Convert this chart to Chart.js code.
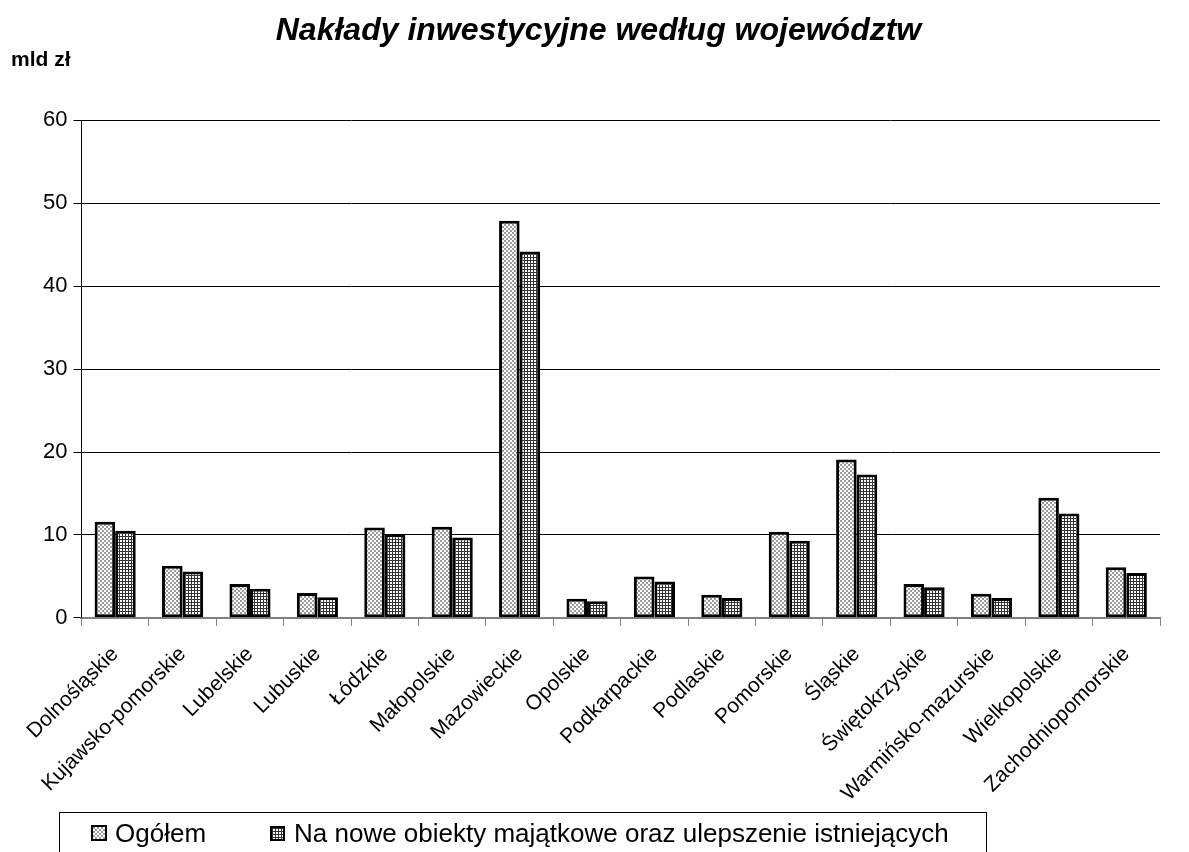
<!DOCTYPE html>
<html>
<head>
<meta charset="utf-8">
<script src="https://cdn.jsdelivr.net/npm/chart.js@4.4.0/dist/chart.umd.min.js"></script>
<style>
  body { margin: 0; background: #fff; font-family: Arial, "Liberation Sans", sans-serif; }
  #wrap { position: relative; width: 1189px; height: 852px; overflow: hidden; }
  #legend {
    position: absolute; left: 59px; top: 812px; width: 928px; height: 60px;
    border: 1px solid #000; box-sizing: border-box; font-size: 26px; line-height: 30px; color: #000;
    display: flex; align-items: flex-start; padding: 5px 0 0 31px;
  }
  #legend span { display: inline-flex; align-items: center; }
</style>
</head>
<body>
<div id="wrap">
  <canvas id="chart" width="1189" height="852"></canvas>
  <div id="legend"></div>
</div>
<script>
// Voivodeships and values (mld zł)
const categories = ["Dolnośląskie", "Kujawsko-pomorskie", "Lubelskie", "Lubuskie", "Łódzkie",
  "Małopolskie", "Mazowieckie", "Opolskie", "Podkarpackie", "Podlaskie", "Pomorskie", "Śląskie",
  "Świętokrzyskie", "Warmińsko-mazurskie", "Wielkopolskie", "Zachodniopomorskie"];
const ogolem = [11.6, 6.3, 4.1, 3.0, 10.9, 11.0, 47.9, 2.3, 5.0, 2.8, 10.4, 19.1, 4.1, 2.9, 14.5, 6.1];
const naNowe = [10.5, 5.6, 3.5, 2.5, 10.1, 9.7, 44.2, 2.0, 4.4, 2.4, 9.3, 17.3, 3.7, 2.4, 12.6, 5.4];
const seriesNames = ["Ogółem", "Na nowe obiekty majątkowe oraz ulepszenie istniejących"];
const yTicks = [0, 10, 20, 30, 40, 50, 60];

// fill patterns like the old Excel hatches
function makePattern(kind) {
  const c = document.createElement('canvas');
  const g = c.getContext('2d');
  if (kind === 'dots') {
    c.width = 4; c.height = 4;
    g.fillStyle = '#fff'; g.fillRect(0, 0, 4, 4);
    g.fillStyle = '#9a9a9a';
    g.fillRect(0, 0, 2, 2); g.fillRect(2, 2, 2, 2);
  } else {
    c.width = 3; c.height = 3;
    g.fillStyle = '#fff'; g.fillRect(0, 0, 3, 3);
    g.fillStyle = '#333';
    g.fillRect(0, 2, 3, 1); g.fillRect(2, 0, 1, 3);
  }
  return g.createPattern(c, 'repeat');
}
const patDots = makePattern('dots');
const patGrid = makePattern('grid');

// "mld zł" unit label in the top-left corner
const unitLabel = {
  id: 'unitLabel',
  afterDraw(chart) {
    const c = chart.ctx;
    c.save();
    c.font = 'bold 21px Arial, "Liberation Sans"';
    c.fillStyle = '#000';
    c.textBaseline = 'middle';
    c.fillText('mld zł', 11, 60);
    c.restore();
  }
};

const ctx = document.getElementById('chart').getContext('2d');
new Chart(ctx, {
  type: 'bar',
  data: {
    labels: categories,
    datasets: [
      { label: seriesNames[0], data: ogolem, backgroundColor: patDots,
        borderColor: '#000', borderWidth: 3, borderSkipped: false },
      { label: seriesNames[1], data: naNowe, backgroundColor: patGrid,
        borderColor: '#000', borderWidth: 3, borderSkipped: false }
    ]
  },
  options: {
    responsive: false,
    animation: false,
    layout: { padding: { left: 37, right: 29, top: 0, bottom: 30 } },
    categoryPercentage: 0.61,
    barPercentage: 1.0,
    plugins: {
      legend: { display: false },
      tooltip: { enabled: false },
      title: {
        display: true,
        text: 'Nakłady inwestycyjne według województw',
        color: '#000',
        font: { family: 'Arial, "Liberation Sans"', size: 32, weight: 'bold', style: 'italic' },
        padding: { top: 12, bottom: 70 }
      }
    },
    scales: {
      x: {
        grid: { display: true, drawOnChartArea: false, offset: true, color: '#808080', tickLength: 8 },
        border: { color: '#808080', width: 2 },
        ticks: {
          color: '#000', minRotation: 45, maxRotation: 45, autoSkip: false, padding: 16,
          font: { family: 'Arial, "Liberation Sans"', size: 21 }
        }
      },
      y: {
        min: 0, max: 60,
        afterBuildTicks: axis => { axis.ticks = yTicks.map(v => ({ value: v })); },
        grid: { color: '#000', tickLength: 8, lineWidth: 1 },
        border: { color: '#000', width: 1 },
        ticks: { color: '#000', padding: 6, font: { family: 'Arial, "Liberation Sans"', size: 22 } }
      }
    }
  },
  plugins: [unitLabel]
});

// legend box below the chart
const legend = document.getElementById('legend');
[patDots, patGrid].forEach((pat, i) => {
  const item = document.createElement('span');
  const size = i === 0 ? 16 : 15;
  if (i === 0) item.style.width = '179px';
  const sw = document.createElement('canvas');
  sw.width = size; sw.height = size;
  sw.style.marginRight = i === 0 ? '8px' : '9px';
  const sg = sw.getContext('2d');
  sg.fillStyle = pat; sg.fillRect(0, 0, size, size);
  sg.strokeStyle = '#000'; sg.lineWidth = 2;
  sg.strokeRect(1, 1, size - 2, size - 2);
  item.appendChild(sw);
  item.appendChild(document.createTextNode(seriesNames[i]));
  legend.appendChild(item);
});
</script>
</body>
</html>
